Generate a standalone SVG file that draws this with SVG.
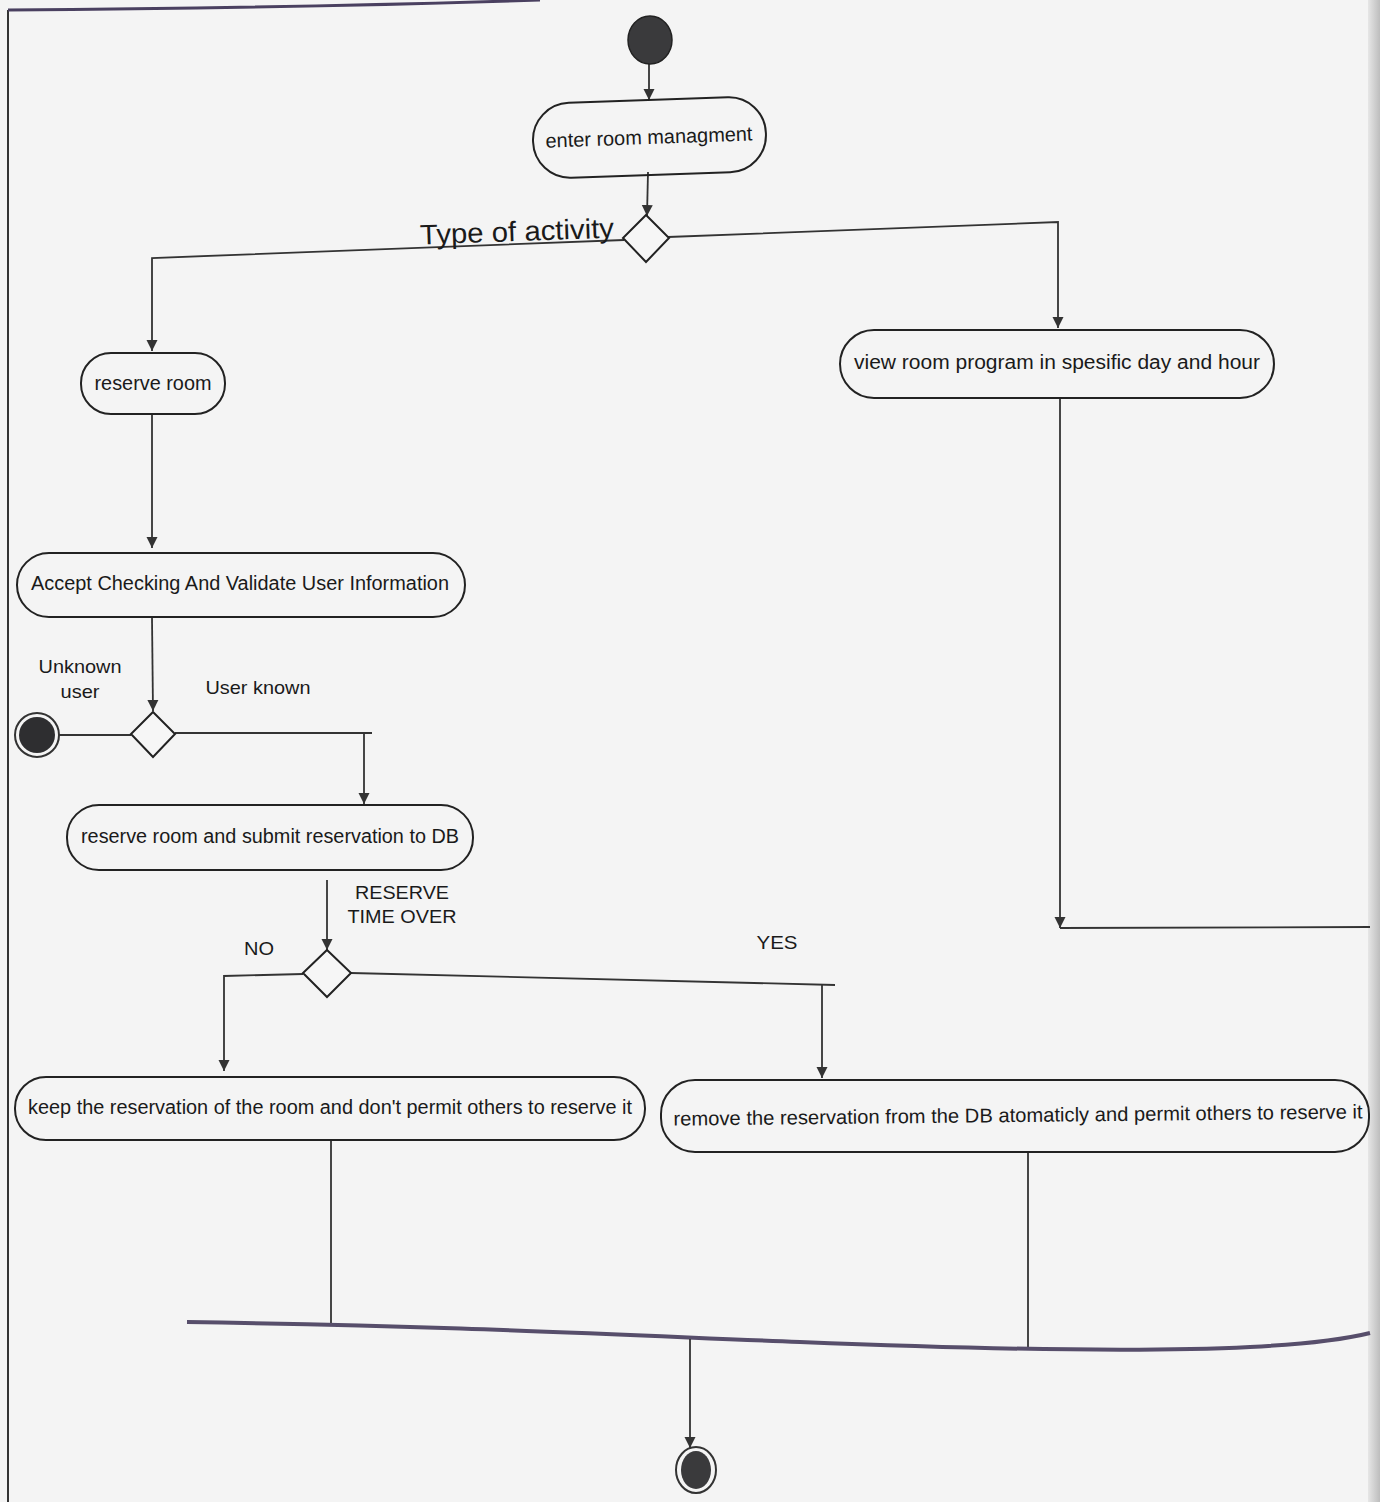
<svg xmlns="http://www.w3.org/2000/svg" width="1380" height="1502" viewBox="0 0 1380 1502">
<defs>
<marker id="arr" viewBox="0 0 10 10" refX="10" refY="5" markerWidth="11" markerHeight="12" markerUnits="userSpaceOnUse" orient="auto">
<path d="M0,0 L10,5 L0,10 z" fill="#333"/>
</marker>
<linearGradient id="edge" x1="0" y1="0" x2="1" y2="0">
<stop offset="0" stop-color="#e6e6e6"/>
<stop offset="1" stop-color="#bdbdbd"/>
</linearGradient>
</defs>
<style>
.pill{fill:none;stroke:#222;stroke-width:2}
.t{font-family:"Liberation Sans",Arial,sans-serif;font-size:20px;fill:#1a1a1a;text-anchor:middle;dominant-baseline:central}
.lbl{font-family:"Liberation Sans",Arial,sans-serif;font-size:19px;fill:#1a1a1a;text-anchor:middle}
.c{fill:none;stroke:#333;stroke-width:1.8}
.cm{fill:none;stroke:#333;stroke-width:1.8;marker-end:url(#arr)}
.dia{fill:#f6f6f6;stroke:#222;stroke-width:2}
</style>
<rect x="0" y="0" width="1380" height="1502" fill="#f4f4f4"/>
<rect x="1368" y="0" width="12" height="1502" fill="url(#edge)"/>
<g id="frame">
<path d="M8,10 L8,1502" fill="none" stroke="#333" stroke-width="2"/>
<path d="M8,10 Q300,8 540,0" fill="none" stroke="#4a4060" stroke-width="3"/>
</g>

<g id="connectors">
<path class="cm" d="M649,64 L649,100"/>
<path class="cm" d="M648,172 L647,216"/>
<path class="cm" d="M624,240 L152,258 L152,351"/>
<path class="cm" d="M668,237 L1058,222 L1058,328"/>
<path class="cm" d="M152,414 L152,548"/>
<path class="cm" d="M152,618 L153,711"/>
<path class="c" d="M59,735 L131,735"/>
<path class="c" d="M175,733 L372,733"/>
<path class="cm" d="M364,733 L364,804"/>
<path class="cm" d="M327,880 L327,950"/>
<path class="cm" d="M303,974 L224,976 L224,1071"/>
<path class="c" d="M351,973 L835,985"/>
<path class="cm" d="M822,984 L822,1078"/>
<path class="cm" d="M1060,399 L1060,928"/>
<path class="c" d="M1060,928 L1370,927"/>
<path class="c" d="M331,1140 L331,1323"/>
<path class="c" d="M1028,1153 L1028,1349"/>
<path d="M187,1322 C450,1326 600,1334 800,1342 C1000,1350 1150,1352 1250,1347 C1310,1344 1350,1338 1370,1333" fill="none" stroke="#574e6b" stroke-width="4"/>
<path class="cm" d="M690,1339 L690,1448"/>
</g>

<g id="start">
<ellipse cx="650" cy="40" rx="22" ry="24" fill="#3a3a3c" stroke="#222" stroke-width="1.5"/>
</g>

<g id="enter-room">
<rect class="pill" x="533" y="100" width="233" height="75" rx="37" ry="37" transform="rotate(-2 650 138)"/>
<text class="t" x="649" y="137" textLength="207" lengthAdjust="spacingAndGlyphs" transform="rotate(-2 650 138)">enter room managment</text>
</g>

<g id="type-decision">
<path class="dia" d="M646,215 L669,238 L646,262 L623,238 z"/>
<text x="517" y="241" font-family="'Liberation Sans',Arial,sans-serif" font-size="28" fill="#1a1a1a" text-anchor="middle" textLength="194" lengthAdjust="spacingAndGlyphs" transform="rotate(-2 517 232)">Type of activity</text>
</g>

<g id="reserve-room">
<rect class="pill" x="81" y="353" width="144" height="61" rx="30" ry="30"/>
<text class="t" x="153" y="383" textLength="117" lengthAdjust="spacingAndGlyphs">reserve room</text>
</g>

<g id="view-room">
<rect class="pill" x="840" y="330" width="434" height="68" rx="34" ry="34"/>
<text class="t" x="1057" y="362" textLength="406" lengthAdjust="spacingAndGlyphs">view room program in spesific day and hour</text>
</g>

<g id="accept-checking">
<rect class="pill" x="17" y="553" width="448" height="64" rx="32" ry="32"/>
<text class="t" x="240" y="583" textLength="418" lengthAdjust="spacingAndGlyphs">Accept Checking And Validate User Information</text>
</g>

<g id="user-decision">
<path class="dia" d="M153,712 L175,734 L153,757 L131,734 z"/>
<text class="lbl" x="80" y="673" textLength="83" lengthAdjust="spacingAndGlyphs">Unknown</text>
<text class="lbl" x="80" y="698" textLength="39" lengthAdjust="spacingAndGlyphs">user</text>
<text class="lbl" x="258" y="694" textLength="105" lengthAdjust="spacingAndGlyphs">User known</text>
</g>

<g id="end-unknown">
<circle cx="37" cy="735" r="22" fill="none" stroke="#333" stroke-width="2"/>
<circle cx="37" cy="735" r="18" fill="#2e2e30"/>
</g>

<g id="reserve-submit">
<rect class="pill" x="67" y="805" width="406" height="65" rx="32" ry="32"/>
<text class="t" x="270" y="836" textLength="378" lengthAdjust="spacingAndGlyphs">reserve room and submit reservation to DB</text>
</g>

<g id="time-decision">
<path class="dia" d="M327,950 L351,973 L327,997 L303,973 z"/>
<text class="lbl" x="402" y="899" textLength="94" lengthAdjust="spacingAndGlyphs">RESERVE</text>
<text class="lbl" x="402" y="923" textLength="109" lengthAdjust="spacingAndGlyphs">TIME OVER</text>
<text class="lbl" x="259" y="955" textLength="30" lengthAdjust="spacingAndGlyphs">NO</text>
<text class="lbl" x="777" y="949" textLength="41" lengthAdjust="spacingAndGlyphs">YES</text>
</g>

<g id="keep-reservation">
<rect class="pill" x="15" y="1077" width="630" height="63" rx="31" ry="31"/>
<text class="t" x="330" y="1107" textLength="604" lengthAdjust="spacingAndGlyphs">keep the reservation of the room and don't permit others to reserve it</text>
</g>

<g id="remove-reservation">
<rect class="pill" x="661" y="1080" width="708" height="72" rx="34" ry="34"/>
<text class="t" x="1018" y="1115" textLength="689" lengthAdjust="spacingAndGlyphs" transform="rotate(-0.6 1018 1115)">remove the reservation from the DB atomaticly and permit others to reserve it</text>
</g>

<g id="end-final">
<ellipse cx="696" cy="1470" rx="20" ry="23" fill="none" stroke="#333" stroke-width="2"/>
<ellipse cx="696" cy="1470" rx="15" ry="19" fill="#3a3a3c"/>
</g>
</svg>
